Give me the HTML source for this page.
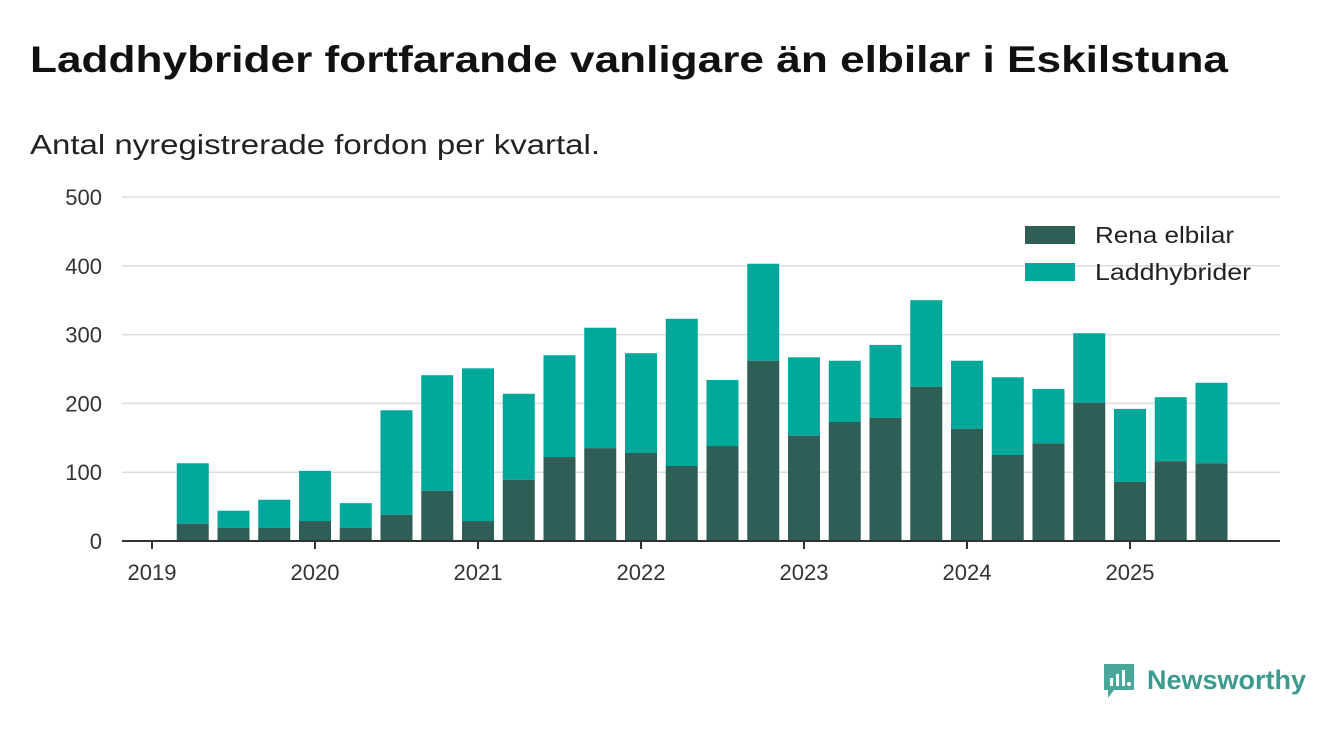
<!DOCTYPE html>
<html><head><meta charset="utf-8"><style>
body{margin:0;background:#fff;font-family:"Liberation Sans",sans-serif;}
svg{display:block}
</style></head><body>
<svg width="1340" height="733">
<text x="30" y="72" font-size="37" font-weight="bold" fill="#111" textLength="1198" lengthAdjust="spacingAndGlyphs">Laddhybrider fortfarande vanligare än elbilar i Eskilstuna</text>
<text x="30" y="154" font-size="28" fill="#222" textLength="570" lengthAdjust="spacingAndGlyphs">Antal nyregistrerade fordon per kvartal.</text>
<g id="grid"></g><g id="bars"></g><g id="axes"></g>
<g>
<rect x="1025" y="226" width="50" height="18" fill="#2e5e56"/>
<text x="1095" y="243" font-size="23" fill="#222" textLength="139" lengthAdjust="spacingAndGlyphs">Rena elbilar</text>
<rect x="1025" y="263" width="50" height="18" fill="#00a89c"/>
<text x="1095" y="280" font-size="23" fill="#222" textLength="156" lengthAdjust="spacingAndGlyphs">Laddhybrider</text>
</g>
<g>
<path d="M1104 664 h30 v26 h-20 l-6 8 v-8 h-4 z" fill="#4aa89a"/>
<rect x="1110" y="678" width="3" height="8" fill="#fff"/><rect x="1116" y="674" width="3" height="12" fill="#fff"/><rect x="1122" y="670" width="3" height="16" fill="#fff"/><circle cx="1129" cy="684" r="2" fill="#fff"/>
<text x="1147" y="689" font-size="27" font-weight="bold" fill="#3d9a8e">Newsworthy</text>
</g>
</svg>
<script>
const years=["2019","2020","2021","2022","2023","2024","2025"];
const yTicks=[0,100,200,300,400,500];
const elbilar=[25,19,19,29,19,38,73,29,89,122,135,128,109,138,262,153,173,179,224,163,125,142,201,86,116,113];
const totals=[113,44,60,102,55,190,241,251,214,270,310,273,323,234,403,267,262,285,350,262,238,221,302,192,209,230];
const NS="http://www.w3.org/2000/svg";
const x0=152,yearW=163,y0=541,pxPer=344/500;
const xs=i=>x0+(i+1)*yearW/4;
const ys=v=>y0-v*pxPer;
function mk(t,a,p){const e=document.createElementNS(NS,t);for(const k in a)e.setAttribute(k,a[k]);p.appendChild(e);return e;}
const grid=document.getElementById('grid'),bars=document.getElementById('bars'),axes=document.getElementById('axes');
yTicks.forEach(v=>{
 if(v>0){const l=mk('line',{x1:122,x2:1280,y1:ys(v),y2:ys(v),stroke:'#ddd','stroke-width':1.5},grid);
 
 }
 const t=mk('text',{x:102,y:ys(v)+8,'font-size':22,fill:'#333','text-anchor':'end'},axes);t.textContent=v;
 
 
});
totals.forEach((tot,i)=>{
 const cx=xs(i),w=32;
 const r1=mk('rect',{x:cx-w/2,y:ys(tot),width:w,height:ys(elbilar[i])-ys(tot),fill:'#00a89c'},bars);
 
 
 const r2=mk('rect',{x:cx-w/2,y:ys(elbilar[i]),width:w,height:y0-ys(elbilar[i]),fill:'#2e5e56'},bars);
 
 
});
const ax=mk('line',{x1:122,x2:1280,y1:y0,y2:y0,stroke:'#333','stroke-width':2},axes);


years.forEach((y,i)=>{
 const x=x0+i*yearW;
 const tk=mk('line',{x1:x,x2:x,y1:y0,y2:y0+8,stroke:'#333','stroke-width':2},axes);
 
 
 const t=mk('text',{x:x,y:580,'font-size':22,fill:'#333','text-anchor':'middle'},axes);t.textContent=y;
 
 
});
</script>
</body></html>
